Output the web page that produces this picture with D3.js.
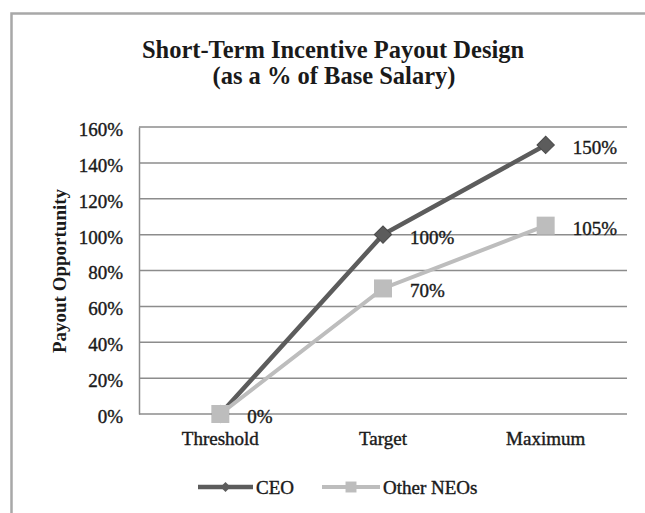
<!DOCTYPE html>
<html>
<head>
<meta charset="utf-8">
<script src="https://cdn.jsdelivr.net/npm/d3@7"></script>
<style>
  body { margin: 0; background: #fff; }
  svg text { font-family: "Liberation Serif", "Times New Roman", serif; fill: #1a1a1a; }
  svg text.heavy { stroke: #1a1a1a; stroke-width: 0.4px; }
</style>
</head>
<body>
<div id="chart"></div>
<script>
var width = 645;
var height = 513;

// data
var categories = ["Threshold", "Target", "Maximum"];
var seriesNames = ["CEO", "Other NEOs"];
var ceoValues = [0, 1.00, 1.50];
var otherValues = [0, 0.70, 1.05];
var yTicks = [0, 0.2, 0.4, 0.6, 0.8, 1.0, 1.2, 1.4, 1.6];

var ceoColor = "#5c5c5c";
var otherColor = "#bdbdbd";

var svg = d3.select("#chart").append("svg").attr("width", width).attr("height", height);

// outer chart frame (runs off right and bottom edge)
svg.append("rect")
   .attr("x", 11.5).attr("y", 13.5)
   .attr("width", 700).attr("height", 600)
   .attr("fill", "#fff")
   .attr("stroke", "#a8a8a8")
   .attr("stroke-width", 2.5);

var x = d3.scaleBand().domain(categories).range([139, 627]);
var y = d3.scaleLinear().domain([0, 1.6]).range([414, 127]);
var cx = function(c){ return x(c) + x.bandwidth() / 2; };
var pct = d3.format(".0%");

// title
var title = svg.append("text").attr("text-anchor", "middle").attr("font-weight", "bold").style("font-size", "24.5px");
title.append("tspan").attr("x", 333).attr("y", 58).text("Short-Term Incentive Payout Design");
title.append("tspan").attr("x", 334).attr("y", 84).text("(as a % of Base Salary)");

// gridlines
svg.append("g").selectAll("line").data(yTicks).enter().append("line")
   .attr("x1", 139).attr("x2", 627)
   .attr("y1", function(d){ return y(d); }).attr("y2", function(d){ return y(d); })
   .attr("stroke", "#8c8c8c").attr("stroke-width", 1.5);

// y axis
var yAxis = svg.append("g").attr("transform", "translate(139,0)")
   .call(d3.axisLeft(y).tickValues(yTicks).tickFormat(pct).tickSize(0).tickPadding(16));
yAxis.select(".domain").attr("stroke", "#8c8c8c").attr("stroke-width", 1.5);
yAxis.selectAll("text").attr("font-family", null).attr("class", "heavy")
     .style("font-size", "19px").attr("dy", "0.44em").attr("fill", "#1a1a1a");

// x axis labels
svg.append("g").selectAll("text").data(categories).enter().append("text")
   .attr("class", "heavy")
   .attr("x", function(d){ return cx(d); })
   .attr("y", 445)
   .attr("text-anchor", "middle")
   .style("font-size", "19px")
   .text(function(d){ return d; });

// y axis title
svg.append("text")
   .attr("transform", "translate(66,271) rotate(-90)")
   .attr("text-anchor", "middle")
   .attr("font-weight", "bold")
   .style("font-size", "19px")
   .text("Payout Opportunity");

var line = d3.line()
   .x(function(d, i){ return cx(categories[i]); })
   .y(function(d){ return y(d); });

// CEO series
svg.append("path").datum(ceoValues)
   .attr("d", line).attr("fill", "none")
   .attr("stroke", ceoColor).attr("stroke-width", 4.5);
svg.append("g").selectAll("path").data(ceoValues).enter().append("path")
   .attr("d", d3.symbol().type(d3.symbolSquare).size(150))
   .attr("transform", function(d, i){ return "translate(" + cx(categories[i]) + "," + y(d) + ") rotate(45)"; })
   .attr("fill", ceoColor).attr("stroke", "#4a4a4a").attr("stroke-width", 1);

// Other NEOs series
svg.append("path").datum(otherValues)
   .attr("d", line).attr("fill", "none")
   .attr("stroke", otherColor).attr("stroke-width", 4);
svg.append("g").selectAll("path").data(otherValues).enter().append("path")
   .attr("d", d3.symbol().type(d3.symbolSquare).size(324))
   .attr("transform", function(d, i){ return "translate(" + cx(categories[i]) + "," + y(d) + ")"; })
   .attr("fill", otherColor);

// data labels
var labelData = [];
ceoValues.forEach(function(v, i){ if (i > 0) labelData.push({c: categories[i], v: v}); });
otherValues.forEach(function(v, i){ labelData.push({c: categories[i], v: v}); });
svg.append("g").selectAll("text").data(labelData).enter().append("text")
   .attr("class", "heavy")
   .attr("x", function(d){ return cx(d.c) + 27; })
   .attr("y", function(d){ return y(d.v) + 9; })
   .style("font-size", "19px")
   .text(function(d){ return pct(d.v); });

// legend
var legendItems = [
    {name: seriesNames[0], color: ceoColor, x1: 198, x2: 253, sym: d3.symbol().type(d3.symbolSquare).size(50), rot: 45, w: 4.5},
    {name: seriesNames[1], color: otherColor, x1: 322, x2: 380, sym: d3.symbol().type(d3.symbolSquare).size(120), rot: 0, w: 4}
];
var lg = svg.append("g").selectAll("g").data(legendItems).enter().append("g");
lg.append("line")
  .attr("x1", function(d){ return d.x1; }).attr("x2", function(d){ return d.x2; })
  .attr("y1", 487).attr("y2", 487)
  .attr("stroke", function(d){ return d.color; }).attr("stroke-width", function(d){ return d.w; });
lg.append("path")
  .attr("d", function(d){ return d.sym(); })
  .attr("transform", function(d){ return "translate(" + ((d.x1 + d.x2) / 2) + ",487) rotate(" + d.rot + ")"; })
  .attr("fill", function(d){ return d.color; });
lg.append("text")
  .attr("class", "heavy")
  .attr("x", function(d){ return d.x2 + 3; })
  .attr("y", 493.5)
  .style("font-size", "19px")
  .text(function(d){ return d.name; });
</script>
</body>
</html>
